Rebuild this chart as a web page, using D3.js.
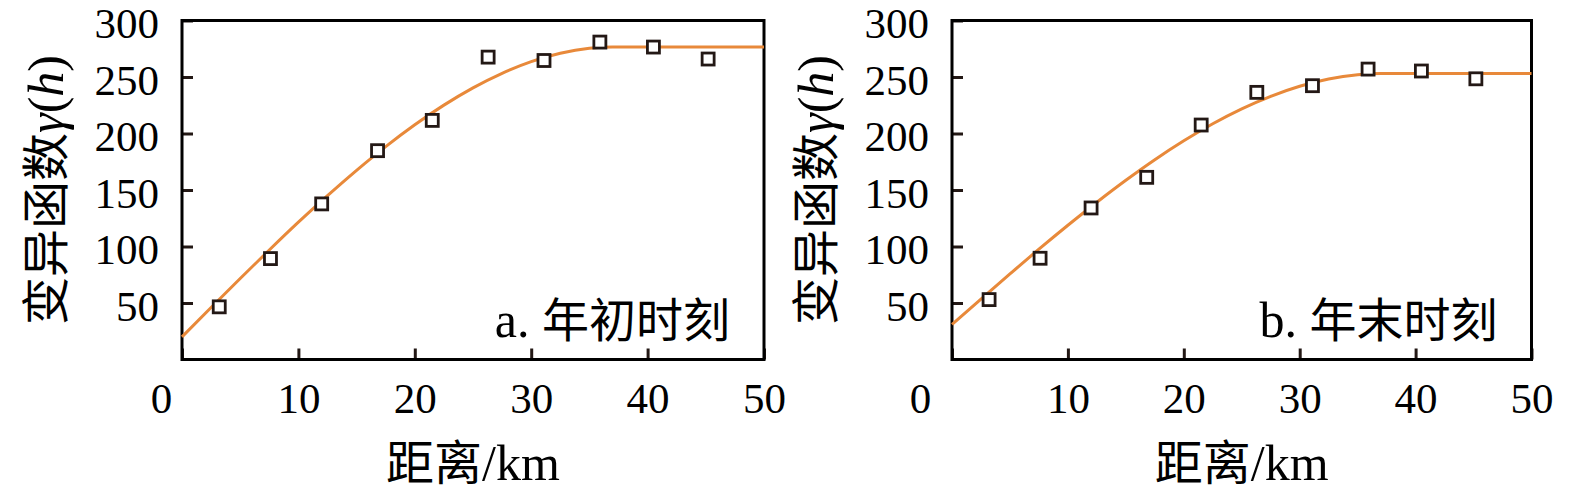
<!DOCTYPE html>
<html>
<head>
<meta charset="utf-8">
<script src="https://cdn.jsdelivr.net/npm/d3@7"></script>
<style>
  html, body { margin: 0; padding: 0; background: #fff; }
  svg { display: block; }
  .num { font-family: "Liberation Serif", "Times New Roman", serif; }
  .cjk { font-family: "Noto Sans CJK SC", sans-serif; }
</style>
</head>
<body>
<svg id="chart" width="1575" height="495"></svg>
<script>
/* ─── Data ───────────────────────────────────────────────────────────────── */

// experimental semivariogram points (lag distance, km)
const lagKm = [3.2, 7.6, 12.0, 16.8, 21.5, 26.3, 31.1, 35.9, 40.5, 45.2];
const gammaStart = [46.6, 89.3, 137.7, 184.8, 211.6, 267.6, 264.6, 280.9, 276.5, 265.9];
const gammaEnd   = [53.0, 89.6, 134.1, 161.2, 207.5, 236.4, 242.3, 257.0, 255.3, 248.4];

// fitted model curve
const fitKm       = [0, 2.5, 5, 7.5, 10, 12.5, 15, 17.5, 20, 22.5, 25, 27.5, 30, 32.5, 35, 37, 40, 45, 50];
const fitStart    = [20, 46, 71.7, 96.9, 121.5, 145, 167.4, 188.4, 207.7, 225.1, 240.4, 253.3, 263.6, 271, 275.4, 276.5, 276.5, 276.5, 276.5];
const fitEnd      = [31, 53.5, 75.7, 97.6, 118.8, 139.2, 158.6, 176.8, 193.5, 208.6, 221.8, 232.9, 241.8, 248.3, 252, 253, 253, 253, 253];

const xTicks = [0, 10, 20, 30, 40, 50];
const yTicks = [50, 100, 150, 200, 250, 300];
const panelLabels = ['a. ', 'b. '];
const panelTitles = ['年初时刻', '年末时刻'];
const xTitle = ['距离', '/km'];
const yTitle = '变异函数';

/* ─── Layout ─────────────────────────────────────────────────────────────── */

const panels = [
  { left: 182, right: 764,  zeroShift: 21, pts: gammaStart, fit: fitStart },
  { left: 952, right: 1531.5, zeroShift: 32, pts: gammaEnd, fit: fitEnd },
];
const TOP = 20.5, BOTTOM = 359.5;
const INK = '#231815', ORANGE = '#e8893a';

const svg = d3.select('#chart');

panels.forEach((p, i) => {
  const x = d3.scaleLinear().domain([0, 50]).range([p.left, p.right]);
  const y = d3.scaleLinear().domain([0, 300]).range([BOTTOM, TOP]);
  const g = svg.append('g');

  // y axis (ticks inward)
  const ya = g.append('g')
    .attr('transform', `translate(${p.left},0)`)
    .call(d3.axisLeft(y).tickValues(yTicks).tickSizeInner(-11).tickSizeOuter(0).tickPadding(23));
  ya.select('.domain').remove();
  ya.selectAll('line').attr('stroke', INK).attr('stroke-width', 3);
  ya.selectAll('text').attr('class', 'num').attr('font-size', 43).attr('fill', '#000')
    .attr('dy', '0.4em').attr('font-family', null);

  // x axis
  const xa = g.append('g')
    .attr('transform', `translate(0,${BOTTOM})`)
    .call(d3.axisBottom(x).tickValues(xTicks).tickSizeInner(-11).tickSizeOuter(0).tickPadding(23));
  xa.select('.domain').remove();
  xa.selectAll('line').attr('stroke', INK).attr('stroke-width', 3);
  xa.selectAll('text').attr('class', 'num').attr('font-size', 43).attr('fill', '#000')
    .attr('font-family', null)
    .attr('dx', d => d === 0 ? -p.zeroShift : 0);

  // frame
  g.append('rect')
    .attr('x', p.left).attr('y', TOP)
    .attr('width', p.right - p.left).attr('height', BOTTOM - TOP)
    .attr('fill', 'none').attr('stroke', '#000').attr('stroke-width', 3);

  // fitted curve
  const line = d3.line()
    .x((d, k) => x(fitKm[k]))
    .y(d => y(d))
    .curve(d3.curveMonotoneX);
  g.append('path')
    .datum(p.fit)
    .attr('d', line)
    .attr('fill', 'none')
    .attr('stroke', ORANGE)
    .attr('stroke-width', 3);

  // points
  g.append('g').selectAll('rect')
    .data(p.pts)
    .join('rect')
    .attr('x', (d, k) => x(lagKm[k]) - 6)
    .attr('y', d => y(d) - 6)
    .attr('width', 12).attr('height', 12)
    .attr('fill', '#fff')
    .attr('stroke', INK)
    .attr('stroke-width', 2.8);

  // panel label
  const lab = g.append('text')
    .attr('x', p.right - 34).attr('y', 337)
    .attr('text-anchor', 'end')
    .attr('font-size', 50);
  lab.append('tspan').attr('class', 'num').text(panelLabels[i]);
  lab.append('tspan').attr('class', 'cjk').attr('font-size', 47).text(panelTitles[i]);

  // x title
  const xt = g.append('text')
    .attr('x', (p.left + p.right) / 2).attr('y', 480)
    .attr('text-anchor', 'middle')
    .attr('font-size', 50);
  xt.append('tspan').attr('class', 'cjk').attr('font-size', 48).text(xTitle[0]);
  xt.append('tspan').attr('class', 'num').text(xTitle[1]);

  // y title
  const yt = g.append('text')
    .attr('transform', `translate(${p.left - 137},${(TOP + BOTTOM) / 2}) rotate(-90)`)
    .attr('text-anchor', 'middle')
    .attr('dy', '0.36em')
    .attr('font-size', 50);
  yt.append('tspan').attr('class', 'cjk').attr('font-size', 48).text(yTitle);
  yt.append('tspan').attr('class', 'num').attr('font-style', 'italic').text('γ');
  yt.append('tspan').attr('class', 'num').text('(');
  yt.append('tspan').attr('class', 'num').attr('font-style', 'italic').text('h');
  yt.append('tspan').attr('class', 'num').text(')');
});
</script>
</body>
</html>
